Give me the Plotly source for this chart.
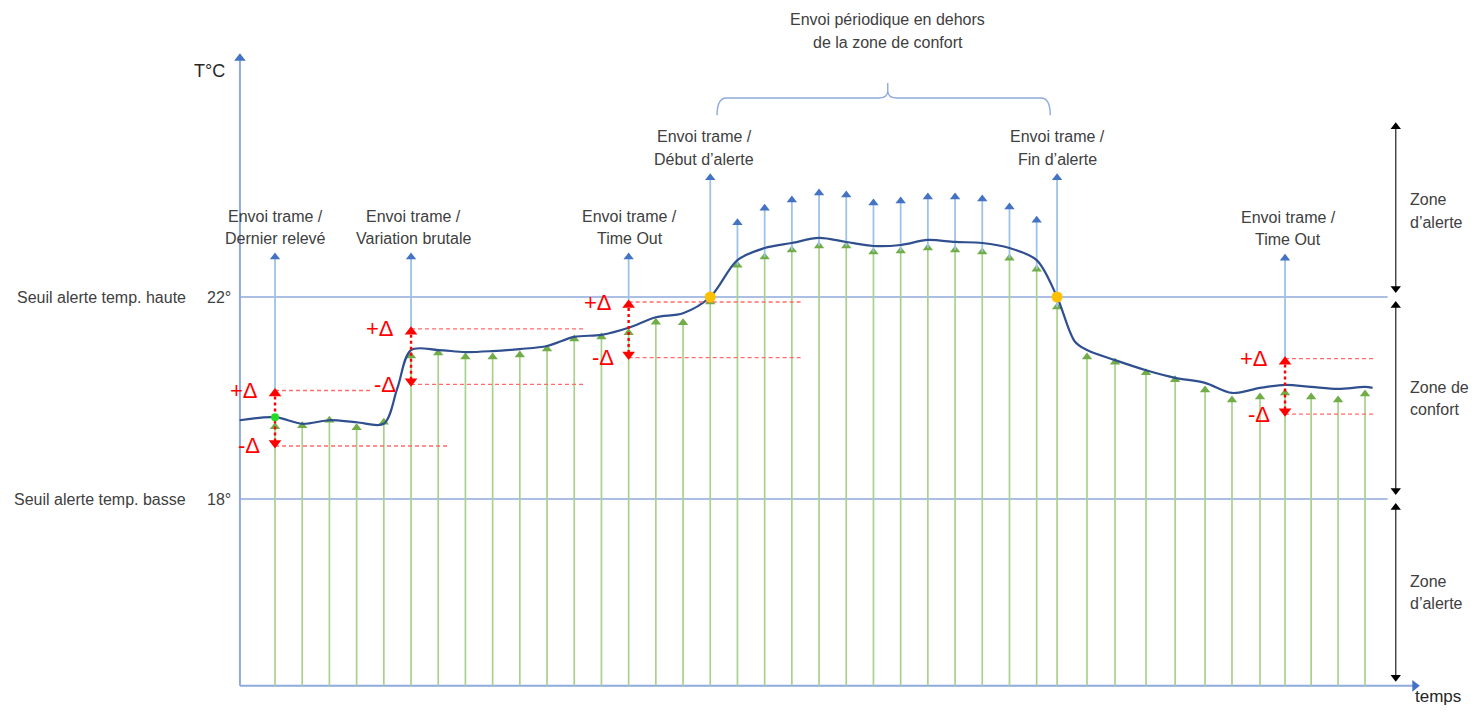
import plotly.graph_objects as go

# ---------------- data ----------------
sample_t = list(range(29)) + [28.75, 29.85, 30.88, 32.02, 33.09, 34.19, 35.18,
                              36.21, 37.13, 38.09, 39.08, 40.07]   # sampling instants
measured = [19.43, 19.45, 19.56, 19.41, 19.52,  # sampled temperature (green arrows)
            20.83, 20.89, 20.81, 20.81, 20.85, 20.97, 21.17, 21.21,
            21.29, 21.50, 21.49, 21.90,
            22.63, 22.79, 22.93, 23.01, 23.01, 22.89, 22.91, 22.97, 22.93, 22.89, 22.77, 22.55,
            21.80,
            20.81, 20.71, 20.50, 20.36, 20.16, 19.96, 20.02, 20.10, 20.02, 19.96, 20.08]

curve_t = [-1.3, 0, 1, 2, 3, 4, 4.5, 5, 6, 7, 8, 9, 10, 11, 12, 13, 14, 15, 16,
           17, 18, 19, 20, 21, 22, 23, 24, 25, 26, 27, 28, 28.75, 29.4, 29.85, 30.88,
           32.02, 33.09, 34.19, 35.18, 36.21, 37.13, 38.09, 39.08, 40.07, 40.35]
curve_T = [19.56, 19.62, 19.49, 19.56, 19.52, 19.49, 20.20, 20.95, 20.95, 20.91,
           20.93, 20.97, 21.03, 21.21, 21.25, 21.39, 21.60, 21.68, 22.00,
           22.73, 22.97, 23.07, 23.17, 23.09, 23.01, 23.03, 23.13, 23.09, 23.07,
           22.97, 22.73, 22.00, 21.12, 20.95, 20.75, 20.55, 20.40, 20.30, 20.10,
           20.20, 20.26, 20.22, 20.18, 20.22, 20.20]

HIGH = 22      # Seuil alerte temp. haute
LOW = 18       # Seuil alerte temp. basse
DELTA = 0.55

delta_events = [0, 5, 13, 37]                 # sample indices
delta_center = [19.60, 20.82, 21.35, 20.23]
delta_plus_end = [3.5, 11.4, 19.4, 40.4]
delta_minus_end = [6.4, 11.4, 19.4, 40.4]

send_events = [0, 5, 13, 16, 29, 37]          # sample indices
send_labels = ["Dernier relevé", "Variation brutale", "Time Out",
               "Début d’alerte", "Fin d’alerte", "Time Out"]
send_top = [22.79, 22.79, 22.79, 24.36, 24.36, 22.77]
send_label_shift = [0, 2, 1, -6, 0, 3]

periodic_idx = list(range(17, 29))
periodic_top = [23.47, 23.76, 23.92, 24.06, 24.02, 23.86, 23.90, 23.98, 23.98,
                23.94, 23.78, 23.52]

alert_start, alert_end = 16, 29               # sample indices
zone_labels = [["Zone", "d’alerte"], ["Zone de", "confort"], ["Zone", "d’alerte"]]

# ---------------- layout constants ----------------
FIG_W, FIG_H = 1465, 702
X_RANGE = [-9.816, 44.04]
Y_RANGE = [13.822, 27.723]
X0, Y0 = -1.29, 14.3          # axes origin
X_END, Y_END = 41.9, 26.73    # axes arrow tips
LINE_END = 40.9
ZONE_X = 41.2
ZONE_TOP = 25.42
LABEL_X = 41.65

FONT = "Liberation Sans"
FS = 16
TXT = "#404040"
GREEN_L, GREEN_D = "#a9d18e", "#70ad47"
BLUE_L, BLUE_D = "#9dc3e6", "#4472c4"
AXIS = "#8faadc"
RED = "#ff0000"
NAVY = "#2f4f8f"

fig = go.Figure()

def seg_trace(xs0, ys0, xs1, ys1, color, width, dash="solid"):
    xs, ys = [], []
    for a, b, c, d in zip(xs0, ys0, xs1, ys1):
        xs += [a, c, None]
        ys += [b, d, None]
    fig.add_trace(go.Scatter(x=xs, y=ys, mode="lines", hoverinfo="skip",
                             line=dict(color=color, width=width, dash=dash)))

def heads(xs, ys, color, symbol="triangle-up", size=9):
    fig.add_trace(go.Scatter(x=xs, y=ys, mode="markers", hoverinfo="skip",
                             marker=dict(symbol=symbol, size=size, color=color,
                                         line=dict(width=0))))

# threshold lines
for lvl in (HIGH, LOW):
    fig.add_shape(type="line", x0=X0, x1=LINE_END, y0=lvl, y1=lvl,
                  line=dict(color=AXIS, width=1.3), layer="below")

# axes
seg_trace([X0, X0], [Y0, Y0], [X0, X_END], [Y_END, Y0], AXIS, 2)
heads([X0], [Y_END], BLUE_D, "triangle-up", 10)
heads([X_END], [Y0], BLUE_D, "triangle-right", 10)

# green stems (measurements)
seg_trace(sample_t, [Y0] * len(sample_t), sample_t, measured, GREEN_L, 1.7)
heads(sample_t, measured, GREEN_D, "triangle-up", 9)

# blue stems (frames sent)
b_x, b_y0, b_y1 = [], [], []
for e, top in zip(send_events, send_top):
    base = measured[e]
    if e in delta_events:
        base = delta_center[delta_events.index(e)] + DELTA
    b_x.append(sample_t[e]); b_y0.append(base); b_y1.append(top)
for e, top in zip(periodic_idx, periodic_top):
    b_x.append(sample_t[e]); b_y0.append(measured[e]); b_y1.append(top)
seg_trace(b_x, b_y0, b_x, b_y1, BLUE_L, 1.8)
heads(b_x, b_y1, BLUE_D, "triangle-up", 9)

# temperature curve
fig.add_trace(go.Scatter(x=curve_t, y=curve_T, mode="lines", hoverinfo="skip",
                         line=dict(color=NAVY, width=2.2, shape="spline", smoothing=0.9)))

# delta markers
for e, c, pe, me in zip(delta_events, delta_center, delta_plus_end, delta_minus_end):
    x = sample_t[e]
    seg_trace([x, x], [c + DELTA, c - DELTA], [pe, me], [c + DELTA, c - DELTA],
              "#ff6b6b", 1.4, "4px,3px")
    seg_trace([x], [c + DELTA], [x], [c - DELTA], RED, 2.4, "dot")
    heads([x], [c + DELTA - 0.06], RED, "triangle-up", 11)
    heads([x], [c - DELTA + 0.06], RED, "triangle-down", 11)
    fig.add_annotation(x=x, y=c + DELTA, text="+Δ", showarrow=False, xshift=-31,
                       font=dict(family=FONT, size=22, color=RED))
    fig.add_annotation(x=x, y=c - DELTA, text="-Δ", showarrow=False, xshift=-26,
                       font=dict(family=FONT, size=22, color=RED))

# special points
heads([sample_t[0]], [curve_T[1]], "#22dd22", "circle", 8)
heads([sample_t[alert_start], sample_t[alert_end]], [HIGH, HIGH], "#ffc000", "circle", 11)

# zone double arrows
zones = [(ZONE_TOP, HIGH), (HIGH, LOW), (LOW, Y0)]
for (top, bot), lab in zip(zones, zone_labels):
    t1, b1 = top - 0.05, bot + 0.17
    if top == HIGH or top == LOW:
        t1 = top - 0.17
    seg_trace([ZONE_X], [t1], [ZONE_X], [b1], "#404040", 1.4)
    heads([ZONE_X], [t1], "#000000", "triangle-up", 9)
    heads([ZONE_X], [b1], "#000000", "triangle-down", 9)
    mid = (top + bot) / 2
    for k, line in enumerate(lab):
        fig.add_annotation(x=LABEL_X, y=mid, text=line, showarrow=False,
                           xanchor="left", yshift=11 - 22.5 * k,
                           font=dict(family=FONT, size=FS, color=TXT))

# send labels
for e, lab, top, sh in zip(send_events, send_labels, send_top, send_label_shift):
    for k, line in enumerate(["Envoi trame /", lab]):
        fig.add_annotation(x=sample_t[e], y=top, text=line, showarrow=False, xshift=sh,
                           yshift=41 - 22.5 * k,
                           font=dict(family=FONT, size=FS, color=TXT))

# brace over periodic zone
bx0, bx1 = sample_t[alert_start] + 0.25, sample_t[alert_end] - 0.25
bmid = (bx0 + bx1) / 2 + 0.15
y_end, y_h, y_tip = 25.60, 25.94, 26.24
dx, dy = 0.35, 0.14
path = (f"M {bx0},{y_end} Q {bx0},{y_h} {bx0 + dx},{y_h} L {bmid - dx},{y_h} "
        f"Q {bmid},{y_h} {bmid},{y_h + dy} L {bmid},{y_tip} L {bmid},{y_h + dy} "
        f"Q {bmid},{y_h} {bmid + dx},{y_h} L {bx1 - dx},{y_h} Q {bx1},{y_h} {bx1},{y_end}")
fig.add_shape(type="path", path=path, line=dict(color=AXIS, width=1.4))
for k, line in enumerate(["Envoi périodique en dehors", "de la zone de confort"]):
    fig.add_annotation(x=bmid, y=y_tip, text=line, showarrow=False,
                       yshift=63 - 22.5 * k,
                       font=dict(family=FONT, size=FS, color=TXT))

# threshold labels
for lvl, txt, deg in ((HIGH, "Seuil alerte temp. haute", "22°"),
                      (LOW, "Seuil alerte temp. basse", "18°")):
    fig.add_annotation(x=X0, y=lvl, text=txt, showarrow=False, xanchor="right",
                       xshift=-52, font=dict(family=FONT, size=FS, color=TXT))
    fig.add_annotation(x=X0, y=lvl, text=deg, showarrow=False, xanchor="center",
                       xshift=-21, font=dict(family=FONT, size=FS, color=TXT))

# axis titles
fig.add_annotation(x=X0, y=Y_END, text="T°C", showarrow=False, xshift=-30, yshift=-13,
                   font=dict(family=FONT, size=18, color="#262626"))
fig.add_annotation(x=X_END, y=Y0, text="temps", showarrow=False, xshift=23, yshift=-11,
                   yanchor="middle", borderpad=0,
                   font=dict(family=FONT, size=17, color="#262626"))

fig.update_layout(
    width=FIG_W, height=FIG_H, showlegend=False,
    margin=dict(l=0, r=0, t=0, b=0),
    paper_bgcolor="white", plot_bgcolor="white",
    xaxis=dict(range=X_RANGE, visible=False, fixedrange=True),
    yaxis=dict(range=Y_RANGE, visible=False, fixedrange=True),
)

fig.write_html("out.html")
